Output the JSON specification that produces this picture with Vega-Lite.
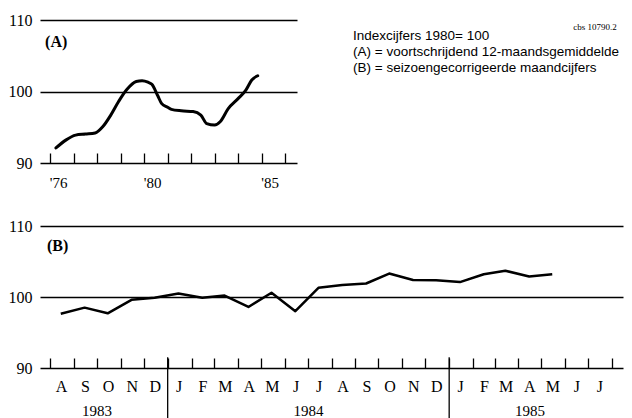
{
  "$schema": "https://vega.github.io/schema/vega-lite/v6.json",
  "padding": {"top": 12, "left": 8, "right": 4, "bottom": 0},
  "background": "white",
  "config": {
    "view": {"stroke": null},
    "axis": {"labelOverlap": false, "labelFlush": false},
    "text": {"font": "Liberation Serif", "color": "black"}
  },
  "spacing": 28,
  "vconcat": [
    {
      "spacing": 56,
      "hconcat": [
        {
          "width": 257,
          "height": 143,
          "layer": [
            {
              "data": {"values": [
                {"date": "1976-04-01", "index": 92.1},
                {"date": "1976-09-01", "index": 93.2},
                {"date": "1977-02-01", "index": 93.9},
                {"date": "1977-07-01", "index": 94.05},
                {"date": "1977-12-01", "index": 94.2},
                {"date": "1978-04-01", "index": 95.1},
                {"date": "1978-08-01", "index": 96.7},
                {"date": "1978-12-01", "index": 98.6},
                {"date": "1979-04-01", "index": 100.2},
                {"date": "1979-09-01", "index": 101.4},
                {"date": "1979-12-01", "index": 101.5},
                {"date": "1980-03-01", "index": 101.3},
                {"date": "1980-05-01", "index": 101.0},
                {"date": "1980-08-01", "index": 99.4},
                {"date": "1980-10-01", "index": 98.3},
                {"date": "1981-01-01", "index": 97.8},
                {"date": "1981-03-01", "index": 97.5},
                {"date": "1981-08-01", "index": 97.3},
                {"date": "1982-02-01", "index": 97.2},
                {"date": "1982-06-01", "index": 96.7},
                {"date": "1982-09-01", "index": 95.5},
                {"date": "1983-01-01", "index": 95.3},
                {"date": "1983-04-01", "index": 95.8},
                {"date": "1983-08-01", "index": 97.6},
                {"date": "1984-01-01", "index": 99.0},
                {"date": "1984-05-01", "index": 100.2},
                {"date": "1984-08-01", "index": 101.6},
                {"date": "1984-11-01", "index": 102.2}
              ]},
              "mark": {"type": "line", "interpolate": "monotone", "color": "black", "strokeWidth": 3, "strokeCap": "round"},
              "encoding": {
                "x": {
                  "field": "date", "type": "temporal", "title": null,
                  "scale": {"domain": [{"year": 1975, "month": 7, "date": 28}, {"year": 1986, "month": 7, "date": 5}]},
                  "axis": {
                    "values": [{"year": 1976}, {"year": 1977}, {"year": 1978}, {"year": 1979}, {"year": 1980}, {"year": 1981}, {"year": 1982}, {"year": 1983}, {"year": 1984}, {"year": 1985}, {"year": 1986}],
                    "tickCount": 100,
                    "domain": false, "grid": false,
                    "tickSize": -10, "tickColor": "black", "tickWidth": 1.3,
                    "labelExpr": "(year(datum.value)==1976||year(datum.value)==1980||year(datum.value)==1985) ? \"'\" + substring(toString(year(datum.value)),2) : ''",
                    "labelOffset": 8, "labelPadding": 22, "labelOverlap": false, "labelFlush": false,
                    "labelFont": "Liberation Serif", "labelFontSize": 15, "labelColor": "black"
                  }
                },
                "y": {
                  "field": "index", "type": "quantitative", "title": null,
                  "scale": {"domain": [90, 110]},
                  "axis": {
                    "values": [90, 100, 110], "grid": true, "gridColor": "black", "gridWidth": 1.3, "gridOpacity": 1,
                    "domain": false, "ticks": false, "labelPadding": 8, "labelOverlap": false,
                    "labelFont": "Liberation Serif", "labelFontSize": 16, "labelColor": "black"
                  }
                }
              }
            },
            {
              "data": {"values": [{"label": "(A)"}]},
              "mark": {"type": "text", "align": "left", "baseline": "middle", "fontSize": 16, "fontWeight": "bold"},
              "encoding": {
                "x": {"datum": {"year": 1975, "month": 10, "date": 15}, "type": "temporal", "title": null},
                "y": {"datum": 106.9, "type": "quantitative", "title": null},
                "text": {"field": "label"}
              }
            }
          ]
        },
        {
          "width": 272,
          "height": 143,
          "layer": [
            {
              "data": {"values": [
                {"line": 1, "text": "Indexcijfers 1980= 100"},
                {"line": 2, "text": "(A) = voortschrijdend 12-maandsgemiddelde"},
                {"line": 3, "text": "(B) = seizoengecorrigeerde maandcijfers"}
              ]},
              "mark": {"type": "text", "align": "left", "baseline": "middle", "font": "Liberation Sans", "fontSize": 13.5},
              "encoding": {
                "x": {"datum": 0, "type": "quantitative", "scale": {"domain": [0, 1]}, "axis": null},
                "y": {"field": "line", "type": "quantitative", "scale": {"domain": [0.4, 8.4], "reverse": true}, "axis": null},
                "text": {"field": "text"}
              }
            },
            {
              "data": {"values": [{"text": "cbs   10790.2"}]},
              "mark": {"type": "text", "align": "right", "baseline": "middle", "font": "Liberation Serif", "fontSize": 9},
              "encoding": {
                "x": {"datum": 0.97, "type": "quantitative", "axis": null},
                "y": {"datum": 0.45, "type": "quantitative", "axis": null},
                "text": {"field": "text"}
              }
            }
          ]
        }
      ]
    },
    {
      "width": 583,
      "height": 142,
      "layer": [
        {
          "data": {"values": [
            {"date": "1983-08-15", "index": 97.65},
            {"date": "1983-09-15", "index": 98.5},
            {"date": "1983-10-15", "index": 97.7},
            {"date": "1983-11-15", "index": 99.6},
            {"date": "1983-12-15", "index": 99.9},
            {"date": "1984-01-15", "index": 100.5},
            {"date": "1984-02-15", "index": 99.9},
            {"date": "1984-03-15", "index": 100.2},
            {"date": "1984-04-15", "index": 98.6},
            {"date": "1984-05-15", "index": 100.6},
            {"date": "1984-06-15", "index": 98.0},
            {"date": "1984-07-15", "index": 101.3},
            {"date": "1984-08-15", "index": 101.7},
            {"date": "1984-09-15", "index": 101.9},
            {"date": "1984-10-15", "index": 103.3},
            {"date": "1984-11-15", "index": 102.4},
            {"date": "1984-12-15", "index": 102.35},
            {"date": "1985-01-15", "index": 102.1},
            {"date": "1985-02-15", "index": 103.2},
            {"date": "1985-03-15", "index": 103.7},
            {"date": "1985-04-15", "index": 102.9},
            {"date": "1985-05-15", "index": 103.2}
          ]},
          "mark": {"type": "line", "color": "black", "strokeWidth": 2.5, "strokeJoin": "round"},
          "encoding": {
            "x": {
              "field": "date", "type": "temporal", "title": null,
              "scale": {"domain": [{"year": 1983, "month": 7, "date": 19}, {"year": 1985, "month": 8, "date": 15}]},
              "axis": {
                "values": [
                  {"year": 1983, "month": 8}, {"year": 1983, "month": 9}, {"year": 1983, "month": 10}, {"year": 1983, "month": 11}, {"year": 1983, "month": 12},
                  {"year": 1984, "month": 1}, {"year": 1984, "month": 2}, {"year": 1984, "month": 3}, {"year": 1984, "month": 4}, {"year": 1984, "month": 5}, {"year": 1984, "month": 6},
                  {"year": 1984, "month": 7}, {"year": 1984, "month": 8}, {"year": 1984, "month": 9}, {"year": 1984, "month": 10}, {"year": 1984, "month": 11}, {"year": 1984, "month": 12},
                  {"year": 1985, "month": 1}, {"year": 1985, "month": 2}, {"year": 1985, "month": 3}, {"year": 1985, "month": 4}, {"year": 1985, "month": 5}, {"year": 1985, "month": 6},
                  {"year": 1985, "month": 7}, {"year": 1985, "month": 8}
                ],
                "tickCount": 100,
                "domain": false, "grid": false,
                "tickSize": -10, "tickColor": "black", "tickWidth": 1.3,
                "labelExpr": "(year(datum.value)==1985 && month(datum.value)==7) ? '' : slice(timeFormat(datum.value, '%b'), 0, 1)",
                "labelOffset": 11, "labelPadding": 20, "labelOverlap": false, "labelFlush": false,
                "labelFont": "Liberation Serif", "labelFontSize": 16, "labelColor": "black"
              }
            },
            "y": {
              "field": "index", "type": "quantitative", "title": null,
              "scale": {"domain": [90, 110]},
              "axis": {
                "values": [90, 100, 110], "grid": true, "gridColor": "black", "gridWidth": 1.3, "gridOpacity": 1,
                "domain": false, "ticks": false, "labelPadding": 8, "labelOverlap": false,
                "labelFont": "Liberation Serif", "labelFontSize": 16, "labelColor": "black"
              }
            }
          }
        },
        {
          "data": {"values": [{"date": "1984-01-01"}, {"date": "1985-01-01"}]},
          "mark": {"type": "rule", "color": "black", "strokeWidth": 1.3},
          "encoding": {
            "x": {"field": "date", "type": "temporal", "title": null},
            "y": {"datum": 91.5, "type": "quantitative", "title": null},
            "y2": {"datum": 82.6}
          }
        },
        {
          "data": {"values": [
            {"date": "1983-10-01", "label": "1983"},
            {"date": "1984-07-02", "label": "1984"},
            {"date": "1985-04-16", "label": "1985"}
          ]},
          "mark": {"type": "text", "align": "center", "baseline": "middle", "fontSize": 15},
          "encoding": {
            "x": {"field": "date", "type": "temporal", "title": null},
            "y": {"datum": 84.0, "type": "quantitative", "title": null},
            "text": {"field": "label"}
          }
        },
        {
          "data": {"values": [{"label": "(B)"}]},
          "mark": {"type": "text", "align": "left", "baseline": "middle", "fontSize": 16, "fontWeight": "bold"},
          "encoding": {
            "x": {"datum": {"year": 1983, "month": 7, "date": 28}, "type": "temporal", "title": null},
            "y": {"datum": 107.2, "type": "quantitative", "title": null},
            "text": {"field": "label"}
          }
        }
      ]
    }
  ]
}
